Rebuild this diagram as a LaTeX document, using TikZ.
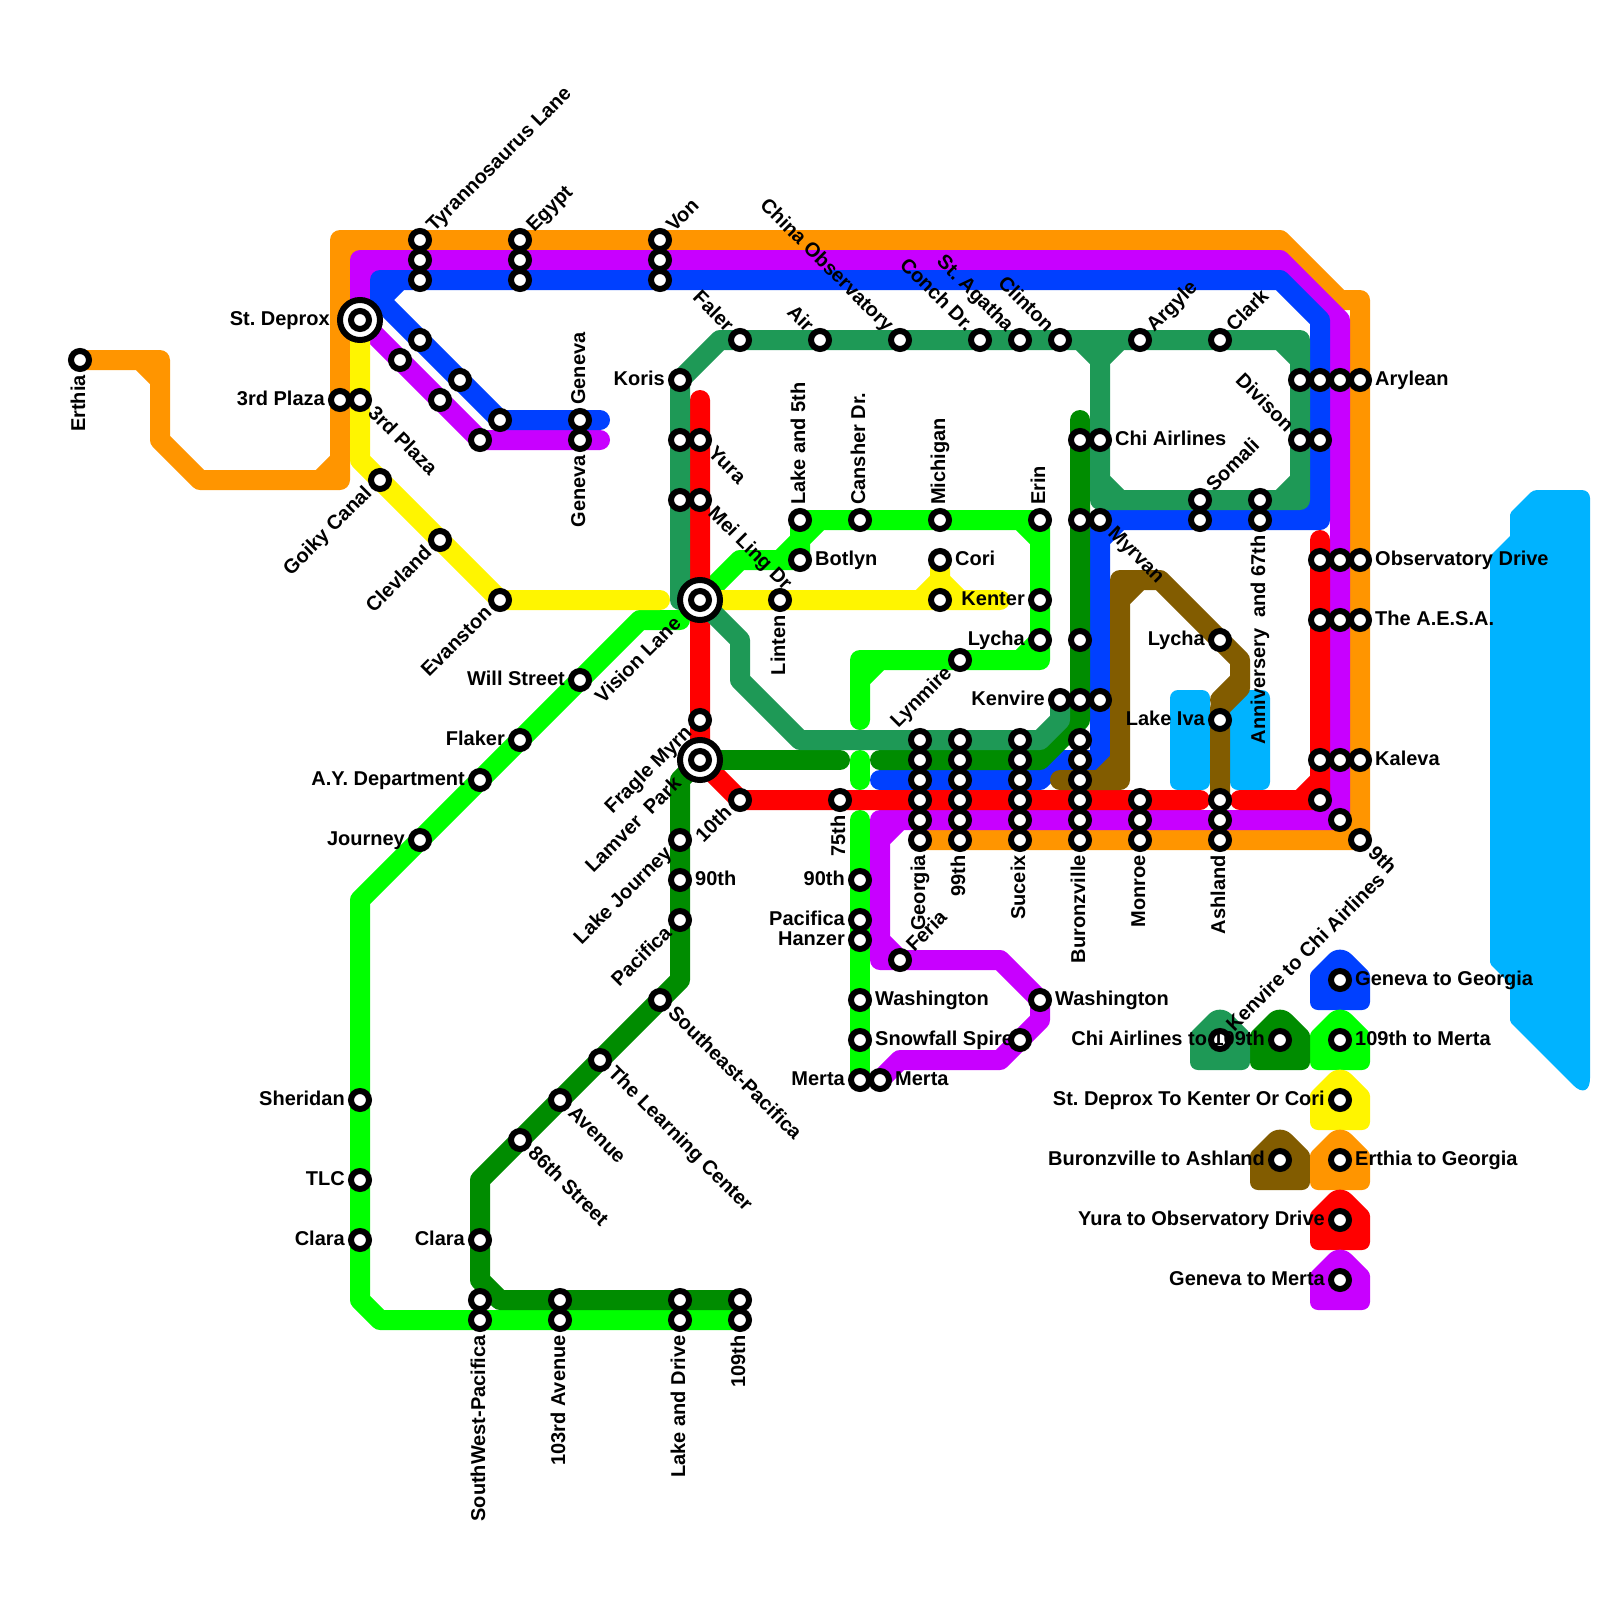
\documentclass[tikz,border=0pt]{standalone}
\usepackage{fontspec}
\setmainfont{Liberation Sans}
\frenchspacing
\definecolor{cOrange}{RGB}{255,149,0}
\definecolor{cPurple}{RGB}{200,0,255}
\definecolor{cBlue}{RGB}{0,64,255}
\definecolor{cRed}{RGB}{255,0,0}
\definecolor{cLime}{RGB}{0,255,0}
\definecolor{cDark}{RGB}{0,140,0}
\definecolor{cSea}{RGB}{30,153,86}
\definecolor{cBrown}{RGB}{130,92,0}
\definecolor{cYellow}{RGB}{255,245,0}
\definecolor{cWater}{RGB}{0,179,255}
\pgfdeclarelayer{bg}
\pgfdeclarelayer{fg}
\pgfsetlayers{bg,main,fg}
\tikzset{
  metro/.style={line width=20pt,line cap=round,line join=round,draw=#1},
  stn/.style={circle,draw=black,fill=white,line width=6pt,minimum size=18pt,inner sep=0pt},
  ring/.style={circle,draw=black,fill=white,line width=6pt,minimum size=40pt,inner sep=0pt},
  lbl/.style={font=\fontsize{20}{24}\selectfont\bfseries,inner sep=0pt,text=black},
  tile/.style={fill=#1},
  water/.style={fill=cWater,rounded corners=8pt}
}
% plain station
\newcommand{\Sn}[2]{\node[stn] (s#1-#2) at (#1,#2) {};}
% station, label starting after it
\newcommand{\Sr}[4]{\Sn{#1}{#2}\begin{pgfonlayer}{fg}\path (s#1-#2.center) ++(#3:15pt) ++(#3-90:5pt) node[lbl,rotate=#3,anchor=base west] (t#1-#2) {#4};\end{pgfonlayer}}
% station, label ending before it
\newcommand{\Sl}[4]{\Sn{#1}{#2}\begin{pgfonlayer}{fg}\path (s#1-#2.center) ++(#3:-15pt) ++(#3-90:5pt) node[lbl,rotate=#3,anchor=base east] (t#1-#2) {#4};\end{pgfonlayer}}
% interchange, label ending before it
\newcommand{\Ix}[4]{\node[ring] (r#1-#2) at (#1,#2) {};\Sn{#1}{#2}\begin{pgfonlayer}{fg}\path (s#1-#2.center) ++(#3:-30pt) ++(#3-90:5pt) node[lbl,rotate=#3,anchor=base east] (t#1-#2) {#4};\end{pgfonlayer}}
% legend tile behind a station
\newcommand{\Tile}[3]{\begin{pgfonlayer}{bg}\fill[tile=#3]
  ([shift={(-22pt,-30pt)}]s#1-#2.center) [rounded corners=8pt] -- ([shift={(-30pt,-30pt)}]s#1-#2.center) [rounded corners=3pt] -- ([shift={(-30pt,7pt)}]s#1-#2.center) [rounded corners=16pt] -- ([shift={(0pt,37pt)}]s#1-#2.center) [rounded corners=3pt] -- ([shift={(30pt,7pt)}]s#1-#2.center) [rounded corners=8pt] -- ([shift={(30pt,-30pt)}]s#1-#2.center) [sharp corners] -- cycle;\end{pgfonlayer}}
\begin{document}
\begin{tikzpicture}[x=20pt,y=-20pt]
\useasboundingbox (0,0) rectangle (80,80);
% ---------- free line ends
\coordinate (endPurple) at (30,22);
\coordinate (endBlue) at (30,21);
\coordinate (endYellow) at (33,30);
\coordinate (endYellowB) at (50,30);
\coordinate (endLime) at (34,31);
\coordinate (endLimeB) at (43,36);
\coordinate (limeA) at (43,38);
\coordinate (limeB) at (43,39);
\coordinate (limeC) at (43,41);
\coordinate (endRedTop) at (35,20);
\coordinate (endRedMid) at (60,40);
\coordinate (endRedStart) at (62,40);
\coordinate (endRedHigh) at (66,27);
\coordinate (endDarkTop) at (54,21);
\coordinate (endDarkA) at (42,38);
\coordinate (endDarkB) at (44,38);
\coordinate (endBlueB) at (44,39);
\coordinate (endBrown) at (53,39);
% ---------- stations and labels
\Sl{4}{18}{90}{Erthia}
\Ix{18}{16}{0}{St. Deprox}
\Sl{17}{20}{0}{3rd Plaza}
\Sr{18}{20}{-45}{3rd Plaza}
\Sr{21}{12}{45}{Tyrannosaurus Lane}\Sn{21}{13}\Sn{21}{14}
\Sr{26}{12}{45}{Egypt}\Sn{26}{13}\Sn{26}{14}
\Sr{33}{12}{45}{Von}\Sn{33}{13}\Sn{33}{14}
\Sn{21}{17}\Sn{23}{19}\Sn{25}{21}
\Sn{20}{18}\Sn{22}{20}\Sn{24}{22}
\Sr{29}{21}{90}{Geneva}
\Sl{29}{22}{90}{Geneva}
\Sl{19}{24}{45}{Goiky Canal}
\Sl{22}{27}{45}{Clevland}
\Sl{25}{30}{45}{Evanston}
\Ix{35}{30}{45}{Vision Lane}
\Ix{35}{38}{45}{Lamver\ \ Park}
\Sl{35}{36}{45}{Fragle Myrn}
\Sl{34}{19}{0}{Koris}
\Sl{37}{17}{-45}{Faler}
\Sl{41}{17}{-45}{Air}
\Sl{45}{17}{-45}{China Observatory}
\Sl{49}{17}{-45}{Conch Dr.}
\Sl{51}{17}{-45}{St. Agatha}
\Sl{53}{17}{-45}{Clinton}
\Sr{57}{17}{45}{Argyle}
\Sr{61}{17}{45}{Clark}
\Sn{34}{22}\Sr{35}{22}{-45}{Yura}
\Sn{34}{25}\Sr{35}{25}{-45}{Mei Ling Dr}
\Sn{54}{22}\Sr{55}{22}{0}{Chi Airlines}
\Sn{65}{19}\Sn{66}{19}\Sn{67}{19}\Sr{68}{19}{0}{Arylean}
\Sl{65}{22}{-45}{Divison}\Sn{66}{22}
\Sr{60}{25}{45}{Somali}\Sn{60}{26}
\Sn{63}{25}\Sl{63}{26}{90}{Anniversery\ \ and 67th}
\Sn{54}{26}\Sr{55}{26}{-45}{Myrvan}
\Sr{40}{26}{90}{Lake and 5th}
\Sr{40}{28}{0}{Botlyn}
\Sr{43}{26}{90}{Cansher Dr.}
\Sr{47}{26}{90}{Michigan}
\Sr{52}{26}{90}{Erin}
\Sr{47}{28}{0}{Cori}
\Sn{47}{30}
\Sl{52}{30}{0}{Kenter}
\Sl{39}{30}{90}{Linten}
\Sl{52}{32}{0}{Lycha}
\Sl{48}{33}{45}{Lynmire}
\Sn{54}{32}
\Sl{53}{35}{0}{Kenvire}\Sn{54}{35}\Sn{55}{35}
\Sl{29}{34}{0}{Will Street}
\Sl{26}{37}{0}{Flaker}
\Sl{24}{39}{0}{A.Y. Department}
\Sl{21}{42}{0}{Journey}
\Sl{18}{55}{0}{Sheridan}
\Sl{18}{59}{0}{TLC}
\Sl{18}{62}{0}{Clara}
\Sl{37}{40}{45}{10th}
\Sl{42}{40}{90}{75th}
\Sl{34}{42}{45}{Lake Journey}
\Sr{34}{44}{0}{90th}
\Sl{34}{46}{45}{Pacifica}
\Sr{33}{50}{-45}{Southeast-Pacifica}
\Sr{30}{53}{-45}{The Learning Center}
\Sr{28}{55}{-45}{Avenue}
\Sr{26}{57}{-45}{86th Street}
\Sl{24}{62}{0}{Clara}
\Sn{24}{65}\Sl{24}{66}{90}{SouthWest-Pacifica}
\Sn{28}{65}\Sl{28}{66}{90}{103rd Avenue}
\Sn{34}{65}\Sl{34}{66}{90}{Lake and Drive}
\Sn{37}{65}\Sl{37}{66}{90}{109th}
\Sn{46}{37}\Sn{46}{38}\Sn{46}{39}\Sn{46}{40}\Sn{46}{41}\Sl{46}{42}{90}{Georgia}
\Sn{48}{37}\Sn{48}{38}\Sn{48}{39}\Sn{48}{40}\Sn{48}{41}\Sl{48}{42}{90}{99th}
\Sn{51}{37}\Sn{51}{38}\Sn{51}{39}\Sn{51}{40}\Sn{51}{41}\Sl{51}{42}{90}{Suceix}
\Sn{54}{37}\Sn{54}{38}\Sn{54}{39}\Sn{54}{40}\Sn{54}{41}\Sl{54}{42}{90}{Buronzville}
\Sn{57}{40}\Sn{57}{41}\Sl{57}{42}{90}{Monroe}
\Sn{61}{40}\Sn{61}{41}\Sl{61}{42}{90}{Ashland}
\Sl{61}{32}{0}{Lycha}
\Sl{61}{36}{0}{Lake Iva}
\Sn{66}{28}\Sn{67}{28}\Sr{68}{28}{0}{Observatory Drive}
\Sn{66}{31}\Sn{67}{31}\Sr{68}{31}{0}{The A.E.S.A.}
\Sn{66}{38}\Sn{67}{38}\Sr{68}{38}{0}{Kaleva}
\Sn{66}{40}\Sn{67}{41}\Sr{68}{42}{-45}{9th}
\Sl{43}{44}{0}{90th}
\Sl{43}{46}{0}{Pacifica}
\Sl{43}{47}{0}{Hanzer}
\Sr{43}{50}{0}{Washington}
\Sr{43}{52}{0}{Snowfall Spire}
\Sl{43}{54}{0}{Merta}
\Sr{44}{54}{0}{Merta}
\Sr{45}{48}{45}{Feria}
\Sr{52}{50}{0}{Washington}
\Sn{51}{52}
% legend
\Sr{67}{49}{0}{Geneva to Georgia}
\Sr{67}{52}{0}{109th to Merta}
\Sl{64}{52}{0}{Chi Airlines to 109th}
\Sr{61}{52}{45}{Kenvire to Chi Airlines}
\Sl{67}{55}{0}{St. Deprox To Kenter Or Cori}
\Sl{64}{58}{0}{Buronzville to Ashland}
\Sr{67}{58}{0}{Erthia to Georgia}
\Sl{67}{61}{0}{Yura to Observatory Drive}
\Sl{67}{64}{0}{Geneva to Merta}
\Tile{67}{49}{cBlue}
\Tile{67}{52}{cLime}
\Tile{64}{52}{cDark}
\Tile{61}{52}{cSea}
\Tile{67}{55}{cYellow}
\Tile{64}{58}{cBrown}
\Tile{67}{58}{cOrange}
\Tile{67}{61}{cRed}
\Tile{67}{64}{cPurple}
% ---------- water and lines
\begin{pgfonlayer}{bg}
\fill[water] (58.5,34.5) rectangle (60.5,39.5);
\fill[water] (61.5,34.5) rectangle (63.5,39.5);
\fill[fill=cWater] (74.5,40) [rounded corners=2pt] -- (74.5,48.2) -- (75.5,49.2) -- (75.5,51.1) [rounded corners=24pt] -- (79.5,55.1) [rounded corners=8pt] -- (79.5,24.5) [rounded corners=4pt] -- (76.65,24.5) [rounded corners=2pt] -- (75.5,25.65) [sharp corners] -- (75.5,26.8) -- (74.5,27.8) -- cycle;
% orange
\draw[metro=cOrange] (s4-18.center) -- (8,18) -- (8,22) -- (10,24) -- (17,24) -- (17,12) -- (64,12) -- (67,15) -- (68,15) -- (68,42) -- (s46-42.center)
  (7,18) -- (8,19) (16,24) -- (17,23) (17,13) -- (18,12) (67,42) -- (68,41);
% purple
\draw[metro=cPurple] (endPurple) -- (s24-22.center) -- (s18-16.center) -- (18,13) -- (64,13) -- (67,16) -- (67,41) -- (44,41) -- (44,48) -- (50,48) -- (s52-50.center) -- (52,51) -- (50,53) -- (45,53) -- (s44-54.center)
  (18,14) -- (19,13) (66,41) -- (67,40) (45,41) -- (44,42) (44,47) -- (45,48);
% blue
\draw[metro=cBlue] (endBlue) -- (s25-21.center) -- (19,15) -- (19,14) -- (64,14) -- (66,16) -- (66,26) -- (55,26) -- (55,38) -- (53,38) -- (52,39) -- (endBlueB)
  (19,15) -- (20,14) (55,27) -- (56,26) (65,26) -- (66,25);
% lime
\draw[metro=cLime] (endLime) -- (32,31) -- (18,45) -- (18,65) -- (19,66) -- (s37-66.center);
\draw[metro=cLime] (r35-30.center) -- (37,28) -- (40,28) -- (40,26) -- (52,26) -- (52,33) -- (43,33) -- (endLimeB)
  (39,28) -- (40,27) (40,27) -- (41,26) (51,26) -- (52,27) (52,32) -- (51,33) (44,33) -- (43,34);
\draw[metro=cLime] (limeA) -- (limeB);
\draw[metro=cLime] (limeC) -- (s43-54.center);
% yellow
\draw[metro=cYellow] (s18-16.center) -- (18,23) -- (s25-30.center) -- (endYellow);
\draw[metro=cYellow] (s35-30.center) -- (endYellowB) (46,30) -- (47,29) -- (s47-28.center) (47,29) -- (48,30);
% red
\draw[metro=cRed] (endRedTop) -- (s35-38.center) -- (s37-40.center) -- (endRedMid);
\draw[metro=cRed] (endRedStart) -- (s66-40.center) -- (endRedHigh) (65,40) -- (66,39);
% dark green
\draw[metro=cDark] (s35-38.center) -- (34,39) -- (34,49) -- (24,59) -- (24,64) -- (25,65) -- (s37-65.center);
\draw[metro=cDark] (s35-38.center) -- (endDarkA);
\draw[metro=cDark] (endDarkB) -- (52,38) -- (54,36) -- (endDarkTop);
% sea green
\draw[metro=cSea] (s35-30.center) -- (34,30) -- (s34-19.center) -- (36,17) -- (65,17) -- (65,25) -- (55,25) -- (55,17)
  (54,17) -- (55,18) (56,17) -- (55,18) (64,17) -- (65,18) (65,24) -- (64,25) (55,24) -- (56,25);
\draw[metro=cSea] (s35-30.center) -- (37,32) -- (37,34) -- (40,37) -- (52,37) -- (53,36) -- (s53-35.center);
% brown
\draw[metro=cBrown] (endBrown) -- (56,39) -- (56,29) -- (58,29) -- (62,33) -- (62,34.4) -- (61,35.4) -- (s61-40.center)
  (55,39) -- (56,38) (56,30) -- (57,29) (62,34) -- (61,35);
\end{pgfonlayer}
\end{tikzpicture}
\end{document}
